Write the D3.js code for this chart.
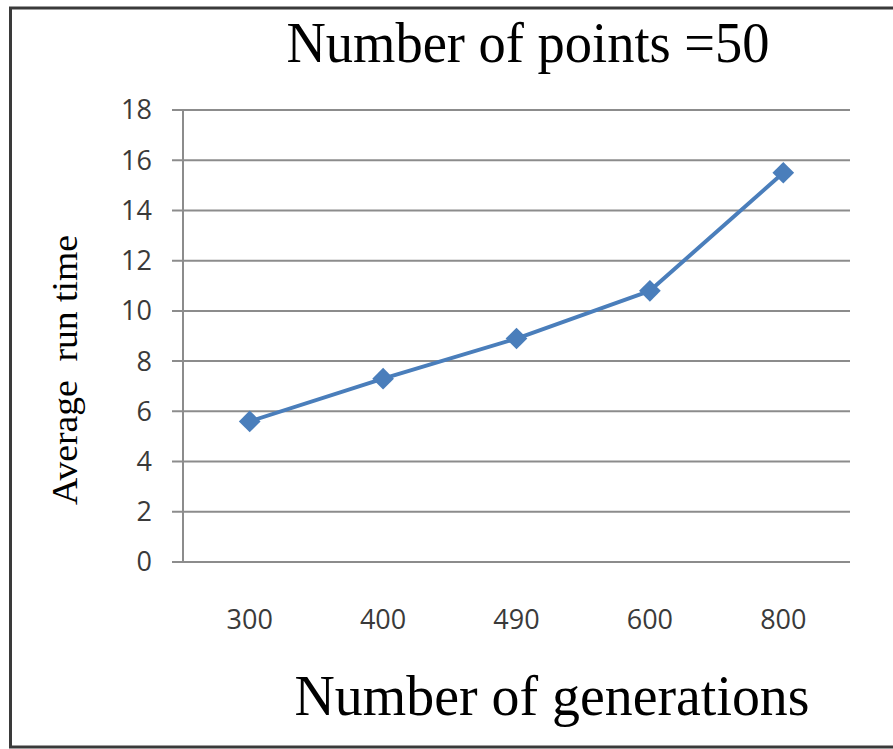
<!DOCTYPE html>
<html><head><meta charset="utf-8">
<script src="https://cdn.jsdelivr.net/npm/d3@7"></script>
<style>body{margin:0;background:#fff}svg{display:block}</style>
</head><body>
<script>
const categories = ["300","400","490","600","800"];
const runTimes = [5.6, 7.3, 8.9, 10.8, 15.5];
const yTicks = [0,2,4,6,8,10,12,14,16,18];
const title = "Number of points =50";
const xTitle = "Number of generations";
const yTitle = "Average  run time";

(function () {
const W = 893, H = 749;
const svg = d3.select("body").append("svg").attr("width", W).attr("height", H);
svg.append("rect").attr("width", W).attr("height", H).attr("fill", "#fff");
svg.append("rect").attr("x", 10.5).attr("y", 8).attr("width", W + 20).attr("height", 739)
  .attr("fill", "none").attr("stroke", "#3a3a3a").attr("stroke-width", 3);

const pLeft = 183, pRight = 850, pTop = 110, pBottom = 562;
const x = d3.scaleBand().domain(categories).range([pLeft, pRight]);
const y = d3.scaleLinear().domain([0, 18]).range([pBottom, pTop]);

svg.append("g").selectAll("line").data(yTicks).join("line")
  .attr("x1", pLeft - 11).attr("x2", pRight)
  .attr("y1", d => y(d)).attr("y2", d => y(d))
  .attr("stroke", "#8c8c8c").attr("stroke-width", 2);
svg.append("line").attr("x1", pLeft).attr("x2", pLeft).attr("y1", pTop).attr("y2", pBottom)
  .attr("stroke", "#8c8c8c").attr("stroke-width", 2);

svg.append("g").selectAll("text").data(yTicks).join("text")
  .attr("x", 152).attr("y", d => y(d)).attr("dy", "0.35em")
  .attr("text-anchor", "end").attr("font-family", "Open Sans, Liberation Sans, sans-serif")
  .attr("font-size", 27).attr("fill", "#3a3a3a").text(d => d);

svg.append("g").selectAll("text").data(categories).join("text")
  .attr("x", d => x(d) + x.bandwidth() / 2).attr("y", 620).attr("dy", "0.35em")
  .attr("text-anchor", "middle").attr("font-family", "Open Sans, Liberation Sans, sans-serif")
  .attr("font-size", 27).attr("fill", "#3a3a3a").text(d => d);

const pts = categories.map((c, i) => [x(c) + x.bandwidth() / 2, y(runTimes[i])]);
svg.append("path").attr("d", d3.line()(pts)).attr("fill", "none")
  .attr("stroke", "#4a7ebb").attr("stroke-width", 4).attr("stroke-linejoin", "round");
svg.append("g").selectAll("path").data(pts).join("path")
  .attr("transform", d => `translate(${d[0]},${d[1]})`)
  .attr("d", d3.symbol().type(d3.symbolDiamond2).size(300))
  .attr("fill", "#4a7ebb");

svg.append("text").attr("x", 528).attr("y", 62).attr("text-anchor", "middle")
  .attr("font-family", "Liberation Serif, serif").attr("font-size", 58).attr("fill", "#000")
  .attr("textLength", 483).attr("lengthAdjust", "spacingAndGlyphs").text(title);
svg.append("text").attr("x", 552).attr("y", 715).attr("text-anchor", "middle")
  .attr("font-family", "Liberation Serif, serif").attr("font-size", 56).attr("fill", "#000")
  .attr("textLength", 515).attr("lengthAdjust", "spacingAndGlyphs").text(xTitle);
svg.append("text").attr("transform", "translate(77,370) rotate(-90)").attr("text-anchor", "middle")
  .attr("font-family", "Liberation Serif, serif").attr("font-size", 35).attr("fill", "#000")
  .style("white-space", "pre")
  .attr("textLength", 270).attr("lengthAdjust", "spacingAndGlyphs").text(yTitle);
})();
</script>
</body></html>
